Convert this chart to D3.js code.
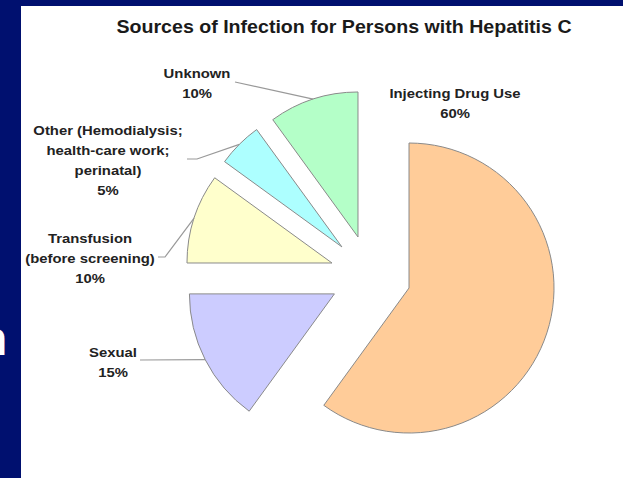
<!DOCTYPE html>
<html>
<head>
<meta charset="utf-8">
<script src="https://cdn.jsdelivr.net/npm/d3@7"></script>
<style>
  html, body { margin: 0; padding: 0; background: #00106f; }
  svg { display: block; }
</style>
</head>
<body>
<script>
// ---- data ----
const categories = ["Injecting Drug Use", "Sexual", "Transfusion (before screening)", "Other (Hemodialysis; health-care work; perinatal)", "Unknown"];
const values = [60, 15, 10, 5, 10];
const labelLines = [
  ["Injecting Drug Use", "60%"],
  ["Sexual", "15%"],
  ["Transfusion", "(before screening)", "10%"],
  ["Other (Hemodialysis;", "health-care work;", "perinatal)", "5%"],
  ["Unknown", "10%"]
];
const colors = ["#ffcc99", "#ccccff", "#ffffcc", "#adffff", "#b4ffc8"];
const title = "Sources of Infection for Persons with Hepatitis C";

// ---- layout ----
const W = 623, H = 478;
const cx = 370.5, cy = 275.5, R = 145, explode = 40.5;
// label anchor (center x, first-line center y) and leader start points
const labelPos = [
  {x: 455, y: 93, leader: null},
  {x: 113, y: 352, leader: [[140, 360]]},
  {x: 90, y: 238, leader: [[158, 257], [165, 257]]},
  {x: 108, y: 130, leader: [[187, 159], [197, 159]]},
  {x: 197, y: 73, leader: [[235, 82]]}
];

const svg = d3.select("body").append("svg").attr("width", W).attr("height", H);

// slide background + white panel
svg.append("rect").attr("width", W).attr("height", H).attr("fill", "#00106f");
svg.append("rect").attr("x", 21).attr("y", 6).attr("width", W - 21).attr("height", H - 6).attr("fill", "#ffffff");
// clipped slide letter at left edge
svg.append("text").attr("x", -22).attr("y", 355)
  .attr("font-family", "Liberation Sans, Arial, sans-serif").attr("font-weight", "bold")
  .attr("font-size", 48).attr("fill", "#ffffff").text("n");

// title
svg.append("text")
  .attr("transform", `translate(344,33) scale(1.06,1)`)
  .attr("text-anchor", "middle")
  .attr("font-family", "Liberation Sans, Arial, sans-serif")
  .attr("font-weight", "bold").attr("font-size", 18.5).attr("fill", "#1a1a1a")
  .text(title);

const pie = d3.pie().sort(null).value(d => d)(values);
const arc = d3.arc().innerRadius(0).outerRadius(R);

const g = svg.append("g").attr("transform", `translate(${cx},${cy})`);
const offset = d => {
  const m = (d.startAngle + d.endAngle) / 2;
  return [explode * Math.sin(m), -explode * Math.cos(m)];
};

g.selectAll("path.slice").data(pie).join("path")
  .attr("class", "slice")
  .attr("transform", d => { const o = offset(d); return `translate(${o[0]},${o[1]})`; })
  .attr("d", arc)
  .attr("fill", (d, i) => colors[i])
  .attr("stroke", "#8a8a8a").attr("stroke-width", 1).attr("stroke-linejoin", "round");

// leader lines
pie.forEach((d, i) => {
  const lp = labelPos[i];
  if (!lp.leader) return;
  const m = (d.startAngle + d.endAngle) / 2;
  const o = offset(d);
  const px = cx + o[0] + R * Math.sin(m);
  const py = cy + o[1] - R * Math.cos(m);
  const pts = lp.leader.concat([[px, py]]);
  svg.append("path")
    .attr("d", d3.line()(pts))
    .attr("fill", "none").attr("stroke", "#999999").attr("stroke-width", 1.2);
});

// labels
labelLines.forEach((lines, i) => {
  const lp = labelPos[i];
  lines.forEach((t, k) => {
    svg.append("text")
      .attr("transform", `translate(${lp.x},${lp.y + k * 20 + 5}) scale(1.1,1)`)
      .attr("text-anchor", "middle")
      .attr("font-family", "Liberation Sans, Arial, sans-serif")
      .attr("font-weight", "bold").attr("font-size", 13.5).attr("fill", "#222222")
      .text(t);
  });
});
</script>
</body>
</html>
